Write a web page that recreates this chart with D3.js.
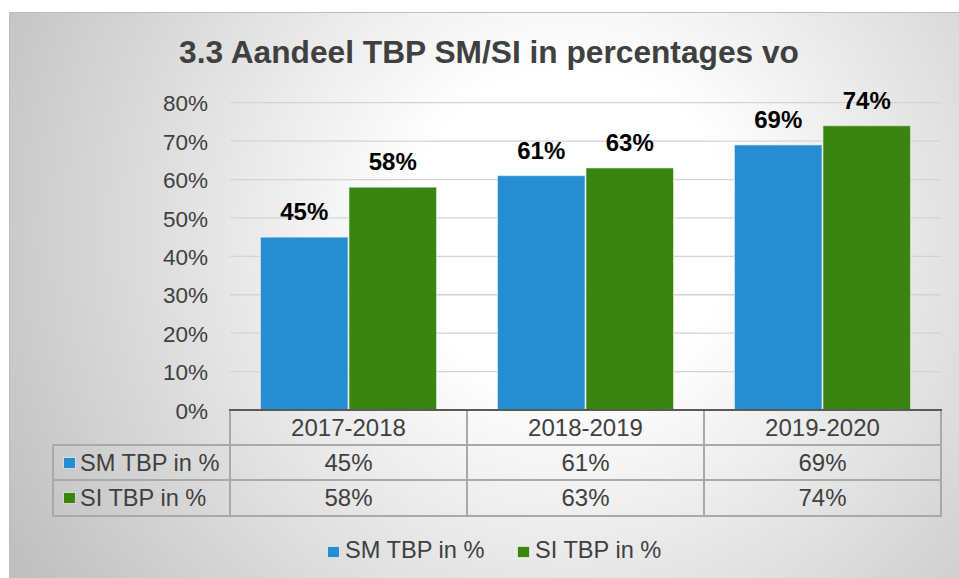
<!DOCTYPE html>
<html><head><meta charset="utf-8">
<script src="https://cdn.jsdelivr.net/npm/d3@7"></script>
<style>html,body{margin:0;padding:0;background:#fff;}svg{display:block;}</style>
</head><body>
<script>
const categories = ["2017-2018", "2018-2019", "2019-2020"];
const seriesNames = ["SM TBP in %", "SI TBP in %"];
const smValues = [45, 61, 69];
const siValues = [58, 63, 74];
const yTicks = [0, 10, 20, 30, 40, 50, 60, 70, 80];
const title = "3.3 Aandeel TBP SM/SI in percentages vo";

const colors = ["#278dd2", "#3a850f"];
const series = [smValues, siValues];

const W = 959, H = 578;
const svg = d3.select("body").append("svg").attr("width", W).attr("height", H);
const font = "'Liberation Sans', Arial, sans-serif";

const defs = svg.append("defs");
const rg = defs.append("radialGradient").attr("id", "bg").attr("gradientUnits", "userSpaceOnUse")
  .attr("cx", 570).attr("cy", 230).attr("r", 640);
rg.append("stop").attr("offset", 0).attr("stop-color", "#ffffff");
rg.append("stop").attr("offset", 0.25).attr("stop-color", "#ffffff");
rg.append("stop").attr("offset", 1).attr("stop-color", "#c0c0c0");

svg.append("rect").attr("x", 9.5).attr("y", 12.5).attr("width", W + 5).attr("height", H + 5)
  .attr("fill", "url(#bg)").attr("stroke", "#bdbdbd").attr("stroke-width", 1);

// title
svg.append("text").attr("x", 489).attr("y", 63).attr("text-anchor", "middle")
  .attr("font-family", font).attr("font-weight", "bold").attr("font-size", 31.7)
  .attr("fill", "#404040").text(title);

const plotL = 230, plotR = 941, plotT = 102.7, plotB = 410;
const y = d3.scaleLinear().domain([0, 80]).range([plotB, plotT]);
const x0 = d3.scaleBand().domain(categories).range([plotL, plotR]);
const x1 = d3.scaleBand().domain(d3.range(series.length)).range([30, x0.bandwidth() - 30]);

// gridlines
svg.append("g").selectAll("line").data(yTicks.filter(t => t > 0)).join("line")
  .attr("x1", plotL).attr("x2", plotR).attr("y1", d => y(d)).attr("y2", d => y(d))
  .attr("stroke", "#d4d4d4").attr("stroke-width", 1.3);

// y axis labels
const yAxis = d3.axisLeft(y).tickValues(yTicks).tickFormat(d => d + "%").tickSize(0).tickPadding(0);
const ya = svg.append("g").attr("transform", `translate(${208},0)`).call(yAxis);
ya.select(".domain").remove();
ya.selectAll("text").attr("font-family", font).attr("font-size", 22.5).attr("fill", "#404040")
  .attr("dy", "0.36em");

// bars
const groups = svg.append("g").selectAll("g").data(categories).join("g")
  .attr("transform", d => `translate(${x0(d)},0)`);
groups.selectAll("rect").data((d, i) => series.map((s, j) => ({ j, v: s[i] }))).join("rect")
  .attr("x", d => x1(d.j) + 0.5).attr("width", x1.bandwidth() - 1)
  .attr("y", d => y(d.v)).attr("height", d => plotB - y(d.v))
  .attr("fill", d => colors[d.j]).attr("stroke", "#e8f0e8").attr("stroke-opacity", 0.6).attr("stroke-width", 1);
groups.selectAll("text").data((d, i) => series.map((s, j) => ({ j, v: s[i] }))).join("text")
  .attr("x", d => x1(d.j) + x1.bandwidth() / 2).attr("y", d => y(d.v) - 17)
  .attr("text-anchor", "middle").attr("font-family", font).attr("font-weight", "bold")
  .attr("font-size", 24).attr("fill", "#000").text(d => d.v + "%");

// data table
const tbl = svg.append("g");
const lblL = 53;
const gridC = "#a9a9a9";
tbl.append("line").attr("x1", plotL).attr("x2", plotR).attr("y1", 445).attr("y2", 445).attr("stroke", gridC).attr("stroke-width", 2);
tbl.append("line").attr("x1", lblL).attr("x2", plotR).attr("y1", 480).attr("y2", 480).attr("stroke", gridC).attr("stroke-width", 2);
tbl.append("line").attr("x1", lblL).attr("x2", plotR).attr("y1", 516).attr("y2", 516).attr("stroke", gridC).attr("stroke-width", 2);
tbl.append("line").attr("x1", lblL).attr("x2", plotL).attr("y1", 445).attr("y2", 445).attr("stroke", gridC).attr("stroke-width", 2);
tbl.append("line").attr("x1", lblL).attr("x2", lblL).attr("y1", 445).attr("y2", 517).attr("stroke", gridC).attr("stroke-width", 2);
const vx = [plotL, ...categories.slice(1).map(c => x0(c)), plotR];
vx.forEach(v => tbl.append("line").attr("x1", v).attr("x2", v).attr("y1", 410).attr("y2", 517)
  .attr("stroke", gridC).attr("stroke-width", 2));
tbl.append("line").attr("x1", plotL - 1).attr("x2", plotR + 1).attr("y1", plotB).attr("y2", plotB)
  .attr("stroke", "#5a5a5a").attr("stroke-width", 2);

tbl.selectAll("text.cat").data(categories).join("text").attr("class", "cat")
  .attr("x", d => x0(d) + x0.bandwidth() / 2).attr("y", 436).attr("text-anchor", "middle")
  .attr("font-family", font).attr("font-size", 24).attr("fill", "#404040").text(d => d);
series.forEach((s, j) => {
  const by = j === 0 ? 471 : 506;
  tbl.selectAll("text.v" + j).data(s).join("text").attr("class", "v" + j)
    .attr("x", (d, i) => x0(categories[i]) + x0.bandwidth() / 2).attr("y", by).attr("text-anchor", "middle")
    .attr("font-family", font).attr("font-size", 24).attr("fill", "#404040").text(d => d + "%");
  tbl.append("rect").attr("x", 63.5).attr("y", by - 13.5).attr("width", 12).attr("height", 11)
    .attr("fill", colors[j]).attr("stroke", "#ffffff").attr("stroke-opacity", 0.6);
  tbl.append("text").attr("x", 80).attr("y", by).attr("font-family", font).attr("font-size", 23.6)
    .attr("fill", "#404040").text(seriesNames[j]);
});

// legend
const legX = [327, 517];
const leg = svg.append("g");
seriesNames.forEach((n, j) => {
  leg.append("rect").attr("x", legX[j] + 0.5).attr("y", 546.5).attr("width", 12).attr("height", 11)
    .attr("fill", colors[j]).attr("stroke", "#ffffff").attr("stroke-opacity", 0.6);
  leg.append("text").attr("x", legX[j] + 18).attr("y", 558).attr("font-family", font).attr("font-size", 23.6)
    .attr("fill", "#404040").text(n);
});
</script>
</body></html>
